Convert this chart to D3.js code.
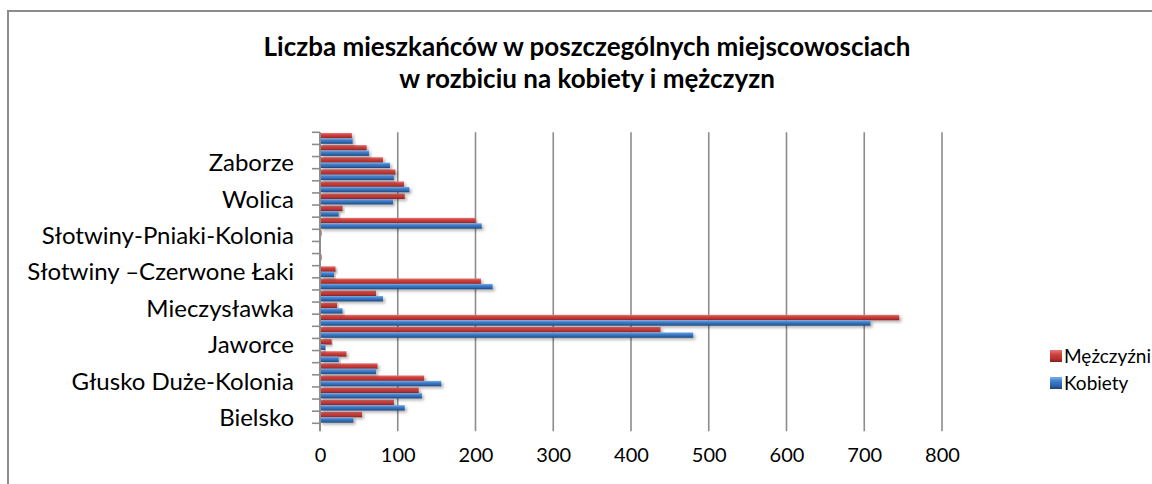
<!DOCTYPE html>
<html>
<head>
<meta charset="utf-8">
<script src="https://cdn.jsdelivr.net/npm/d3@7"></script>
<style>
    body { margin: 0; background: #fff; }
    svg { display: block; font-family: Lato, "Open Sans", sans-serif; }
</style>
</head>
<body>
<svg id="chart" width="1152" height="484"></svg>
<script>
// categories from bottom to top; only every third label is readable in the source
const categories = [
    `Bielsko`, ``, ``, `Głusko Duże-Kolonia`, ``, ``, `Jaworce`, ``, ``,
    `Mieczysławka`, ``, ``, `Słotwiny –Czerwone Łaki`, ``, ``,
    `Słotwiny-Pniaki-Kolonia`, ``, ``, `Wolica`, ``, ``, `Zaborze`, ``, ``
];
const men = [54, 95, 127, 134, 74, 34, 15, 438, 745, 22, 72, 207, 20, 2, 0, 2, 200, 29, 109, 108, 97, 81, 60, 41];
const women = [43, 109, 131, 156, 72, 24, 7, 480, 708, 29, 81, 222, 18, 1, 0, 1, 208, 24, 94, 115, 95, 90, 63, 42];
const xTicks = [0, 100, 200, 300, 400, 500, 600, 700, 800];
const seriesNames = [`Mężczyźni`, `Kobiety`];

const plotLeft = 320;
const plotRight = 942;
const plotTop = 132.3;
const plotBottom = 423.3;
const gray = `#8c8c8c`;
const font = `Lato, sans-serif`;

const svg = d3.select(`#chart`);
const defs = svg.append(`defs`);

const addGradient = (id, stops) => {
    const g = defs.append(`linearGradient`)
        .attr(`id`, id)
        .attr(`x1`, 0).attr(`y1`, 0).attr(`x2`, 0).attr(`y2`, 1);
    stops.forEach(([o, c]) => g.append(`stop`).attr(`offset`, o).attr(`stop-color`, c));
};
addGradient(`redGrad`, [[0, `#e77a78`], [0.35, `#cf4340`], [0.75, `#b3312e`], [1, `#7e1f1d`]]);
addGradient(`blueGrad`, [[0, `#7cb0ea`], [0.35, `#3f7fcc`], [0.75, `#2d63a8`], [1, `#1d4174`]]);

const shadow = defs.append(`filter`).attr(`id`, `shadow`)
    .attr(`x`, `-5%`).attr(`y`, `-50%`).attr(`width`, `115%`).attr(`height`, `300%`);
shadow.append(`feDropShadow`)
    .attr(`dx`, 2).attr(`dy`, 2).attr(`stdDeviation`, 1.6)
    .attr(`flood-color`, `#000`).attr(`flood-opacity`, 0.3);

// outer frame
svg.append(`rect`)
    .attr(`x`, 8).attr(`y`, 11)
    .attr(`width`, 1160).attr(`height`, 490)
    .attr(`fill`, `#fff`)
    .attr(`stroke`, gray)
    .attr(`stroke-width`, 2);

// title
const title = svg.append(`text`)
    .attr(`text-anchor`, `middle`)
    .attr(`font-family`, font)
    .attr(`font-size`, `26px`)
    .attr(`font-weight`, `bold`)
    .attr(`fill`, `#000`);
title.append(`tspan`).attr(`x`, 587).attr(`y`, 56).text(`Liczba mieszkańców w poszczególnych miejscowosciach`);
title.append(`tspan`).attr(`x`, 587).attr(`y`, 88).text(`w rozbiciu na kobiety i mężczyzn`);

const xScale = d3.scaleLinear()
    .domain([0, 800])
    .range([plotLeft, plotRight]);

const yScale = d3.scaleBand()
    .domain(d3.range(categories.length))
    .range([plotBottom, plotTop]);

const inner = d3.scaleBand()
    .domain([0, 1])
    .range([0, yScale.bandwidth()])
    .paddingOuter(0.12)
    .paddingInner(0);

// gridlines
svg.append(`g`)
    .selectAll(`line`)
    .data(xTicks.slice(1))
    .join(`line`)
    .attr(`x1`, d => xScale(d)).attr(`x2`, d => xScale(d))
    .attr(`y1`, plotTop).attr(`y2`, plotBottom + 8)
    .attr(`stroke`, gray)
    .attr(`stroke-width`, 1.6);

// x axis labels
const xAxis = d3.axisBottom(xScale)
    .tickValues(xTicks)
    .tickSize(0)
    .tickPadding(0);
const xg = svg.append(`g`)
    .attr(`transform`, `translate(0, ${plotBottom + 8})`)
    .call(xAxis)
    .attr(`font-family`, font)
    .attr(`font-size`, `20px`);
xg.select(`.domain`).remove();
xg.selectAll(`text`)
    .attr(`dy`, `0`)
    .attr(`y`, 31)
    .attr(`fill`, `#000`);

// bars
const groups = svg.append(`g`)
    .selectAll(`g`)
    .data(categories.map((c, i) => ({ i, values: [men[i], women[i]] })))
    .join(`g`)
    .attr(`transform`, d => `translate(0, ${yScale(d.i)})`);

groups.selectAll(`rect`)
    .data(d => d.values.map((v, s) => ({ v, s })))
    .join(`rect`)
    .filter(d => d.v > 0)
    .attr(`x`, plotLeft)
    .attr(`y`, d => inner(d.s))
    .attr(`width`, d => xScale(d.v) - plotLeft)
    .attr(`height`, inner.bandwidth())
    .attr(`fill`, d => d.s === 0 ? `url(#redGrad)` : `url(#blueGrad)`)
    .attr(`filter`, `url(#shadow)`);

// y axis
const yAxis = d3.axisLeft(yScale)
    .tickValues([])
    .tickSize(0);
const yg = svg.append(`g`)
    .attr(`transform`, `translate(${plotLeft}, 0)`)
    .call(yAxis)
    .attr(`font-family`, font)
    .attr(`font-size`, `24px`);
yg.select(`.domain`).remove();

yg.append(`line`)
    .attr(`x1`, 0).attr(`x2`, 0)
    .attr(`y1`, plotTop).attr(`y2`, plotBottom + 8)
    .attr(`stroke`, gray)
    .attr(`stroke-width`, 2);

yg.selectAll(`.tickmark`)
    .data(d3.range(categories.length + 1))
    .join(`line`)
    .attr(`class`, `tickmark`)
    .attr(`x1`, -8).attr(`x2`, 0)
    .attr(`y1`, i => plotBottom - i * yScale.step())
    .attr(`y2`, i => plotBottom - i * yScale.step())
    .attr(`stroke`, gray)
    .attr(`stroke-width`, 1.6);

yg.selectAll(`.catlabel`)
    .data(categories.map((c, i) => ({ c, i })).filter(d => d.c !== ``))
    .join(`text`)
    .attr(`class`, `catlabel`)
    .attr(`x`, -26)
    .attr(`y`, d => yScale(d.i) + yScale.bandwidth() / 2)
    .attr(`dy`, `0.36em`)
    .attr(`text-anchor`, `end`)
    .attr(`fill`, `#000`)
    .text(d => d.c);

// legend
const legend = svg.append(`g`)
    .attr(`font-family`, font)
    .attr(`font-size`, `19px`)
    .selectAll(`g`)
    .data(seriesNames)
    .join(`g`)
    .attr(`transform`, (d, i) => `translate(1050, ${356 + i * 27})`);
legend.append(`rect`)
    .attr(`x`, 0).attr(`y`, -6)
    .attr(`width`, 12).attr(`height`, 12)
    .attr(`fill`, (d, i) => i === 0 ? `url(#redGrad)` : `url(#blueGrad)`);
legend.append(`text`)
    .attr(`x`, 14)
    .attr(`dy`, `0.36em`)
    .attr(`fill`, `#000`)
    .text(d => d);
</script>
</body>
</html>
